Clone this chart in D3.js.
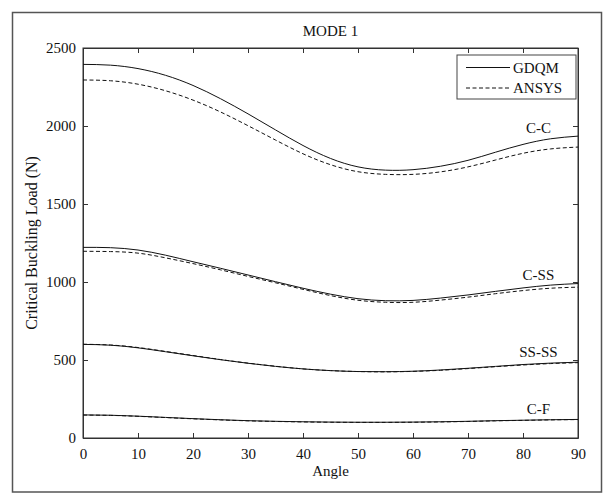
<!DOCTYPE html>
<html lang="en">
<head>
<meta charset="UTF-8">
<title>MODE 1</title>
<style>
  body { margin: 0; padding: 0; background: #fff; overflow: hidden; }
  svg { display: block; }
  text { font-family: "Liberation Serif", "Times New Roman", serif; fill: #111; }
</style>
</head>
<body>
<script src="https://d3js.org/d3.v7.min.js"></script>
<script>
// angles (deg) the curves were read at
const angles = [0, 5, 10, 15, 20, 25, 30, 35, 40, 45, 50, 55, 60, 65, 70, 75, 80, 85, 90];

// critical buckling load (N)
const ccGdqm   = [2395, 2390, 2368, 2325, 2260, 2175, 2078, 1975, 1875, 1792, 1738, 1717, 1720, 1742, 1780, 1832, 1882, 1918, 1935];
const ccAnsys  = [2295, 2290, 2268, 2226, 2166, 2090, 2002, 1910, 1822, 1752, 1707, 1690, 1690, 1706, 1738, 1782, 1825, 1853, 1865];
const cssGdqm  = [1222, 1220, 1205, 1172, 1130, 1088, 1045, 1002, 960, 922, 893, 880, 882, 897, 917, 940, 962, 980, 990];
const cssAnsys = [1197, 1195, 1185, 1155, 1118, 1078, 1036, 995, 953, 913, 883, 870, 870, 884, 903, 925, 945, 960, 967];
const ssGdqm   = [600, 595, 578, 553, 527, 502, 479, 459, 443, 432, 426, 425, 428, 436, 447, 459, 471, 480, 486];
const ssAnsys  = [601, 596, 580, 555, 529, 503, 480, 460, 443, 432, 426, 424, 427, 434, 445, 457, 468, 477, 483];
const cfGdqm   = [148, 146, 140, 132, 124, 117, 111, 107, 104, 102, 101, 101, 102, 104, 107, 111, 114, 117, 119];
const cfAnsys  = [147, 145, 139, 131, 123, 116, 110, 106, 103, 101, 100, 100, 101, 103, 106, 110, 113, 116, 118];

const xTicks = [0, 10, 20, 30, 40, 50, 60, 70, 80, 90];
const yTicks = [0, 500, 1000, 1500, 2000, 2500];

const curveLabels = [
    { name: "C-C",   at: [82.8, 1955] },
    { name: "C-SS",  at: [82.8, 1010] },
    { name: "SS-SS", at: [82.8, 520] },
    { name: "C-F",   at: [82.8, 155] }
];

const width = 603, height = 495;
const plot = { left: 83, right: 578, top: 48, bottom: 438 };
const fs = 15;

const svg = d3.select("body").append("svg")
    .attr("width", width)
    .attr("height", height);

// outer frame
svg.append("rect")
    .attr("x", 12.5).attr("y", 12.5)
    .attr("width", 589).attr("height", 479.5)
    .attr("fill", "none")
    .attr("stroke", "#555")
    .attr("stroke-width", 1.5);

const x = d3.scaleLinear().domain([0, 90]).range([plot.left, plot.right]);
const y = d3.scaleLinear().domain([0, 2500]).range([plot.bottom, plot.top]);

// axes, ticks pointing inwards on all sides
const tickLen = 5;
svg.append("g")
    .attr("transform", `translate(0,${plot.bottom})`)
    .call(d3.axisBottom(x).tickValues(xTicks).tickFormat(d3.format("d"))
        .tickSizeInner(-tickLen).tickSizeOuter(0).tickPadding(10));
svg.append("g")
    .attr("transform", `translate(0,${plot.top})`)
    .call(d3.axisTop(x).tickValues(xTicks).tickSizeInner(-tickLen).tickSizeOuter(0).tickFormat(""));
svg.append("g")
    .attr("transform", `translate(${plot.left},0)`)
    .call(d3.axisLeft(y).tickValues(yTicks).tickFormat(d3.format("d"))
        .tickSizeInner(-tickLen).tickSizeOuter(0).tickPadding(7));
svg.append("g")
    .attr("transform", `translate(${plot.right},0)`)
    .call(d3.axisRight(y).tickValues(yTicks).tickSizeInner(-tickLen).tickSizeOuter(0).tickFormat(""));

svg.selectAll(".domain").attr("stroke", "#333");
svg.selectAll(".tick line").attr("stroke", "#333");
svg.selectAll(".tick text")
    .attr("font-family", "Liberation Serif, serif")
    .attr("font-size", fs)
    .attr("fill", "#111");

// box around plot
svg.append("rect")
    .attr("x", plot.left).attr("y", plot.top)
    .attr("width", plot.right - plot.left).attr("height", plot.bottom - plot.top)
    .attr("fill", "none").attr("stroke", "#333");

// curves
const line = d3.line()
    .x((d, i) => x(angles[i]))
    .y(d => y(d))
    .curve(d3.curveNatural);

const series = [
    { v: ccGdqm, dash: null }, { v: ccAnsys, dash: "4,2.5" },
    { v: cssGdqm, dash: null }, { v: cssAnsys, dash: "4,2.5" },
    { v: ssGdqm, dash: null }, { v: ssAnsys, dash: "4,2.5" },
    { v: cfGdqm, dash: null }, { v: cfAnsys, dash: "4,2.5" }
];

svg.selectAll("path.curve")
    .data(series)
    .enter().append("path")
    .attr("class", "curve")
    .attr("d", d => line(d.v))
    .attr("fill", "none")
    .attr("stroke", "#111")
    .attr("stroke-width", 1)
    .attr("stroke-dasharray", d => d.dash);

// labels at curve ends
svg.selectAll("text.clabel")
    .data(curveLabels)
    .enter().append("text")
    .attr("class", "clabel")
    .attr("x", d => x(d.at[0]))
    .attr("y", d => y(d.at[1]))
    .attr("text-anchor", "middle")
    .attr("font-size", fs)
    .text(d => d.name);

// titles
svg.append("text")
    .attr("x", (plot.left + plot.right) / 2)
    .attr("y", 36)
    .attr("text-anchor", "middle")
    .attr("font-size", fs)
    .text("MODE 1");

svg.append("text")
    .attr("x", (plot.left + plot.right) / 2)
    .attr("y", 476)
    .attr("text-anchor", "middle")
    .attr("font-size", fs)
    .text("Angle");

svg.append("text")
    .attr("transform", `translate(37,${(plot.top + plot.bottom) / 2}) rotate(-90)`)
    .attr("text-anchor", "middle")
    .attr("font-size", 16)
    .text("Critical Buckling Load (N)");

// legend
const legend = svg.append("g").attr("transform", "translate(457,55)");
legend.append("rect")
    .attr("width", 119).attr("height", 44)
    .attr("fill", "#fff").attr("stroke", "#444");
const legendItems = [{ name: "GDQM", dash: null }, { name: "ANSYS", dash: "4,2.5" }];
legendItems.forEach((d, i) => {
    const ly = 12.5 + i * 20.5;
    legend.append("line")
        .attr("x1", 9).attr("x2", 53)
        .attr("y1", ly).attr("y2", ly)
        .attr("stroke", "#111")
        .attr("stroke-dasharray", d.dash);
    legend.append("text")
        .attr("x", 56).attr("y", ly + 5)
        .attr("font-size", fs)
        .text(d.name);
});
</script>
</body>
</html>
